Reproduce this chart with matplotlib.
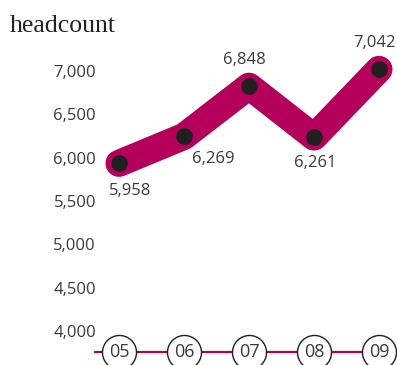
import matplotlib.pyplot as plt
import numpy as np

years = ["05", "06", "07", "08", "09"]
headcount = [5958, 6269, 6848, 6261, 7042]
y_ticks = [4000, 4500, 5000, 5500, 6000, 6500, 7000]
# where each value label sits relative to its dot (points)
label_offsets = [(8, -20), (21, -16), (-3, 19), (1, -19), (-3, 19)]

MAGENTA = "#B4005A"
DARK = "#231F20"
TEXT = "#3a3a3a"


def plot_headcount():
    fig = plt.figure(figsize=(3.97, 3.65), dpi=100)
    ax = fig.add_axes([0, 0, 1, 1])
    ax.set_axis_off()

    # 65 px per year, 86.7 px per 1000 people
    ax.set_xlim(-119 / 65, (397 - 119) / 65)
    ax.set_ylim(7000 - (365 - 73) / 0.0867, 7000 + 73 / 0.0867)
    y_base = 7000 - (352 - 73) / 0.0867

    xs = np.arange(len(years))

    ax.text(-1.68, 7000 + 41 / 0.0867, "headcount", fontsize=18.5,
            family="Liberation Serif", color="#222222", ha="left", va="baseline")

    for v in y_ticks:
        ax.text(-23 / 65, v, f"{v:,}", fontsize=12, family="Open Sans",
                color=TEXT, ha="right", va="center")

    ax.plot(xs, headcount, color=MAGENTA, lw=19.5, solid_capstyle="round",
            solid_joinstyle="round", zorder=2)
    ax.plot(xs, headcount, "o", color=DARK, ms=11, zorder=3)

    for x, v, off in zip(xs, headcount, label_offsets):
        ax.annotate(f"{v:,}", (x, v), xytext=off, textcoords="offset points",
                    fontsize=12, family="Open Sans", color=TEXT,
                    ha="center", va="center")

    # year markers along the baseline
    ax.plot([-24 / 65, 4.25], [y_base, y_base], color=MAGENTA, lw=1.6, zorder=2)
    ax.scatter(xs, [y_base] * len(xs), s=600, facecolor="white",
               edgecolor=DARK, linewidth=1.0, zorder=3)
    for x, yr in zip(xs, years):
        ax.text(x, y_base, yr, fontsize=13, family="Open Sans", color=TEXT,
                ha="center", va="center", zorder=4)

    fig.savefig("out.png", dpi=100)


if __name__ == "__main__":
    plot_headcount()
